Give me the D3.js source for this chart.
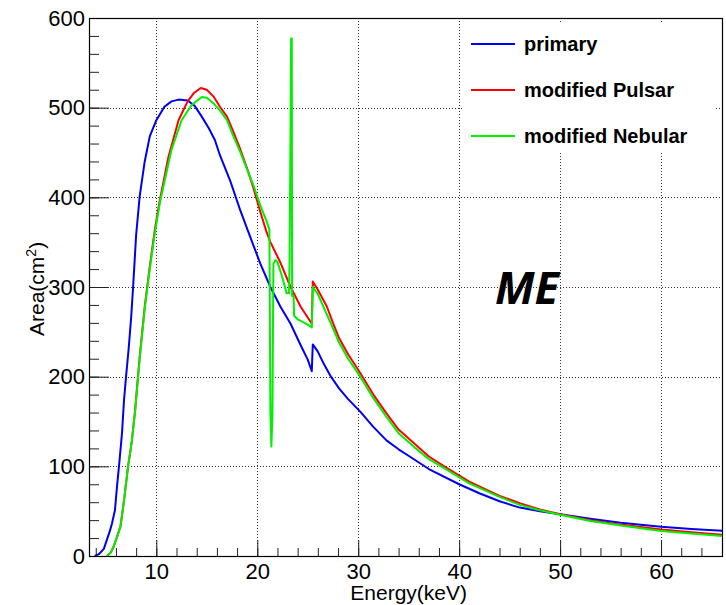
<!DOCTYPE html>
<html>
<head>
<meta charset="utf-8">
<script src="https://cdn.jsdelivr.net/npm/d3@7/dist/d3.min.js"></script>
<style>
  body { margin: 0; background: #fff; }
  svg { display: block; }
</style>
</head>
<body>
<script>
// Effective area curves (cm^2) versus photon energy (keV)
const primaryEnergy = [3.9, 4.3, 4.8, 5.1, 5.4, 5.6, 5.9, 6.1, 6.3, 6.6, 6.8, 7.0, 7.25, 7.5, 7.7, 8.0, 8.35, 8.85, 9.35, 10.0, 10.8, 11.5, 12.2, 13.1, 13.8, 14.5, 15.2, 15.8, 16.3, 17.3, 18.3, 19.3, 20.3, 21.3, 22.3, 23.3, 24.3, 25.0, 25.4, 25.5, 26.0, 26.6, 27.3, 28.1, 29.0, 30.2, 31.5, 32.8, 34.0, 35.1, 37.0, 40.0, 42.0, 44.0, 46.0, 48.0, 50.0, 53.0, 56.0, 60.0, 63.0, 66.1];
const primaryArea   = [0, 2, 8, 18, 28, 36, 51, 77, 100, 137, 174, 200, 230, 265, 300, 358, 401, 440, 468, 486, 501, 507, 509, 508, 502, 490, 477, 464, 447, 419, 386, 356, 326, 300, 278, 259, 235, 219, 206, 236, 228, 214, 200, 187, 175, 161, 144, 129, 119, 111, 97, 80, 70, 61, 54, 50, 46.5, 41.5, 37, 32.5, 30, 28];

const pulsarEnergy = [5.1, 5.5, 5.75, 6.1, 6.45, 6.8, 7.2, 7.55, 7.9, 8.35, 8.85, 9.35, 9.85, 10.35, 11.2, 12.2, 13.1, 13.7, 14.4, 15.0, 15.7, 16.3, 17.0, 17.6, 18.3, 19.0, 19.6, 20.3, 20.9, 21.3, 22.3, 23.3, 24.3, 25.0, 25.4, 25.5, 26.0, 26.9, 27.5, 28.1, 29.0, 30.2, 31.5, 32.8, 34.0, 35.5, 37.0, 38.8, 41.0, 44.0, 46.0, 48.0, 50.0, 53.0, 56.0, 60.0, 63.0, 66.1];
const pulsarArea   = [0, 4, 10, 21, 33, 62, 100, 126, 163, 222, 278, 323, 364, 397, 445, 486, 507, 516, 522, 520, 512, 501, 490, 474, 454, 432, 411, 384, 362, 350, 327, 300, 278, 266, 259, 306, 297, 278, 260, 243, 225, 204, 180, 159, 141, 126, 111, 98, 83, 67, 59, 52, 46.5, 40, 35, 29.5, 26.5, 23.5];

const nebularEnergy = [5.1, 5.5, 5.75, 6.1, 6.45, 6.8, 7.2, 7.55, 7.9, 8.35, 8.85, 9.35, 9.85, 10.35, 11.5, 12.5, 13.5, 14.5, 15.0, 15.65, 16.3, 17.0, 17.6, 18.3, 19.0, 19.6, 20.3, 20.9, 21.2, 21.3, 21.4, 21.5, 21.6, 21.8, 22.0, 22.5, 22.9, 23.15, 23.2, 23.3, 23.35, 23.42, 23.45, 23.6, 23.65, 24.0, 24.5, 25.0, 25.4, 25.5, 26.0, 27.5, 28.1, 29.0, 30.2, 31.5, 32.8, 34.0, 35.5, 37.0, 38.8, 41.0, 44.0, 46.0, 48.0, 50.0, 53.0, 56.0, 60.0, 63.0, 66.1];
const nebularArea   = [0, 4, 10, 21, 33, 62, 100, 126, 162, 220, 276, 320, 360, 394, 453, 486, 503, 512, 511, 505, 497, 486, 469, 451, 431, 414, 391, 374, 364, 160, 122, 158, 326, 330, 328, 310, 293, 293, 330, 480, 577, 577, 290, 290, 268, 264, 261, 258, 255, 300, 292, 254, 238, 220, 200, 176, 155, 137, 122, 108, 96, 81, 66, 57, 51, 46, 39, 34, 28, 25, 22.3];

const seriesLabels = ["primary", "modified Pulsar", "modified Nebular"];
const xMajorTicks = [10, 20, 30, 40, 50, 60];
const xMinorTicks = d3.range(4, 66, 2);
const yMajorTicks = [0, 100, 200, 300, 400, 500, 600];
const yMinorTicks = d3.range(0, 601, 20);

const series = [
  { name: seriesLabels[0], color: "#0000f0", pts: d3.zip(primaryEnergy, primaryArea) },
  { name: seriesLabels[1], color: "#ff0000", pts: d3.zip(pulsarEnergy, pulsarArea) },
  { name: seriesLabels[2], color: "#00f000", pts: d3.zip(nebularEnergy, nebularArea) }
];

const W = 726, H = 605;
const frame = { left: 89, right: 722, top: 18, bottom: 556 };
const FONT = "'Liberation Sans', Arial, Helvetica, sans-serif";

const svg = d3.select("body").append("svg").attr("width", W).attr("height", H)
  .style("font-family", FONT);

const x = d3.scaleLinear().domain([3.33, 66.04]).range([frame.left, frame.right]);
const y = d3.scaleLinear().domain([0, 600]).range([frame.bottom, frame.top]);

// dotted grid at major ticks
const grid = svg.append("g").attr("stroke", "#000").attr("stroke-width", 1)
  .attr("stroke-dasharray", "1 2").attr("opacity", 0.8);
xMajorTicks.forEach(v => grid.append("line")
  .attr("x1", Math.round(x(v)) + 0.5).attr("x2", Math.round(x(v)) + 0.5)
  .attr("y1", frame.top).attr("y2", frame.bottom));
yMajorTicks.filter(v => v > 0 && v < 600).forEach(v => grid.append("line")
  .attr("x1", frame.left).attr("x2", frame.right)
  .attr("y1", Math.round(y(v)) + 0.5).attr("y2", Math.round(y(v)) + 0.5));

// curves
svg.append("clipPath").attr("id", "plotclip").append("rect")
  .attr("x", frame.left).attr("y", frame.top)
  .attr("width", frame.right - frame.left).attr("height", frame.bottom - frame.top);

const line = d3.line().x(d => x(d[0])).y(d => y(d[1])).curve(d3.curveLinear);
const curves = svg.append("g").attr("clip-path", "url(#plotclip)");
series.forEach(s => curves.append("path")
  .attr("d", line(s.pts)).attr("fill", "none")
  .attr("stroke", s.color).attr("stroke-width", 2).attr("stroke-linejoin", "round"));

// legend (white box hides the grid behind it)
const legend = svg.append("g");
legend.append("rect").attr("x", 462).attr("y", 22).attr("width", 254).attr("height", 130).attr("fill", "#fff");
series.forEach((s, i) => {
  const ly = 44 + i * 46;
  legend.append("line").attr("x1", 471).attr("x2", 515).attr("y1", ly).attr("y2", ly)
    .attr("stroke", s.color).attr("stroke-width", 2);
  legend.append("text").attr("x", 524).attr("y", ly + 7)
    .attr("font-size", 20).attr("font-weight", "bold").attr("fill", "#000").text(s.name);
});

// axes: ticks drawn inward from the frame
const axisY = svg.append("g").attr("transform", `translate(${frame.left},0)`)
  .call(d3.axisLeft(y).tickValues(yMajorTicks).tickSizeInner(-20).tickSizeOuter(0).tickPadding(4)
    .tickFormat(d3.format("d")));
svg.append("g").attr("transform", `translate(${frame.left},0)`)
  .call(d3.axisLeft(y).tickValues(yMinorTicks).tickSizeInner(-10).tickSizeOuter(0).tickFormat(""));

const axisX = svg.append("g").attr("transform", `translate(0,${frame.bottom})`)
  .call(d3.axisBottom(x).tickValues(xMajorTicks).tickSizeInner(-16).tickSizeOuter(0).tickPadding(7)
    .tickFormat(d3.format("d")));
svg.append("g").attr("transform", `translate(0,${frame.bottom})`)
  .call(d3.axisBottom(x).tickValues(xMinorTicks).tickSizeInner(-8).tickSizeOuter(0).tickFormat(""));

svg.selectAll(".domain").remove();
svg.selectAll(".tick line").attr("stroke", "#222");
[axisY, axisX].forEach(a => a.selectAll("text")
  .attr("font-size", 22).attr("font-family", FONT).attr("fill", "#000"));

// frame
svg.append("rect").attr("x", frame.left + 0.5).attr("y", frame.top + 0.5)
  .attr("width", frame.right - frame.left).attr("height", frame.bottom - frame.top)
  .attr("fill", "none").attr("stroke", "#000").attr("stroke-width", 1.2);

// axis titles
svg.append("text").attr("x", 467).attr("y", 600).attr("text-anchor", "end")
  .attr("font-size", 21).text("Energy(keV)");

const yt = svg.append("text").attr("transform", "translate(44,336) rotate(-90)")
  .attr("font-size", 21);
yt.append("tspan").text("Area(cm");
yt.append("tspan").attr("font-size", 14).attr("dy", -8).text("2");
yt.append("tspan").attr("dy", 8).text(")");

// detector tag
svg.append("text").attr("x", 495).attr("y", 304)
  .attr("font-size", 45).attr("font-weight", "bold").attr("font-style", "italic")
  .attr("font-family", "'Open Sans', 'Liberation Sans', sans-serif").text("ME");
</script>
</body>
</html>
